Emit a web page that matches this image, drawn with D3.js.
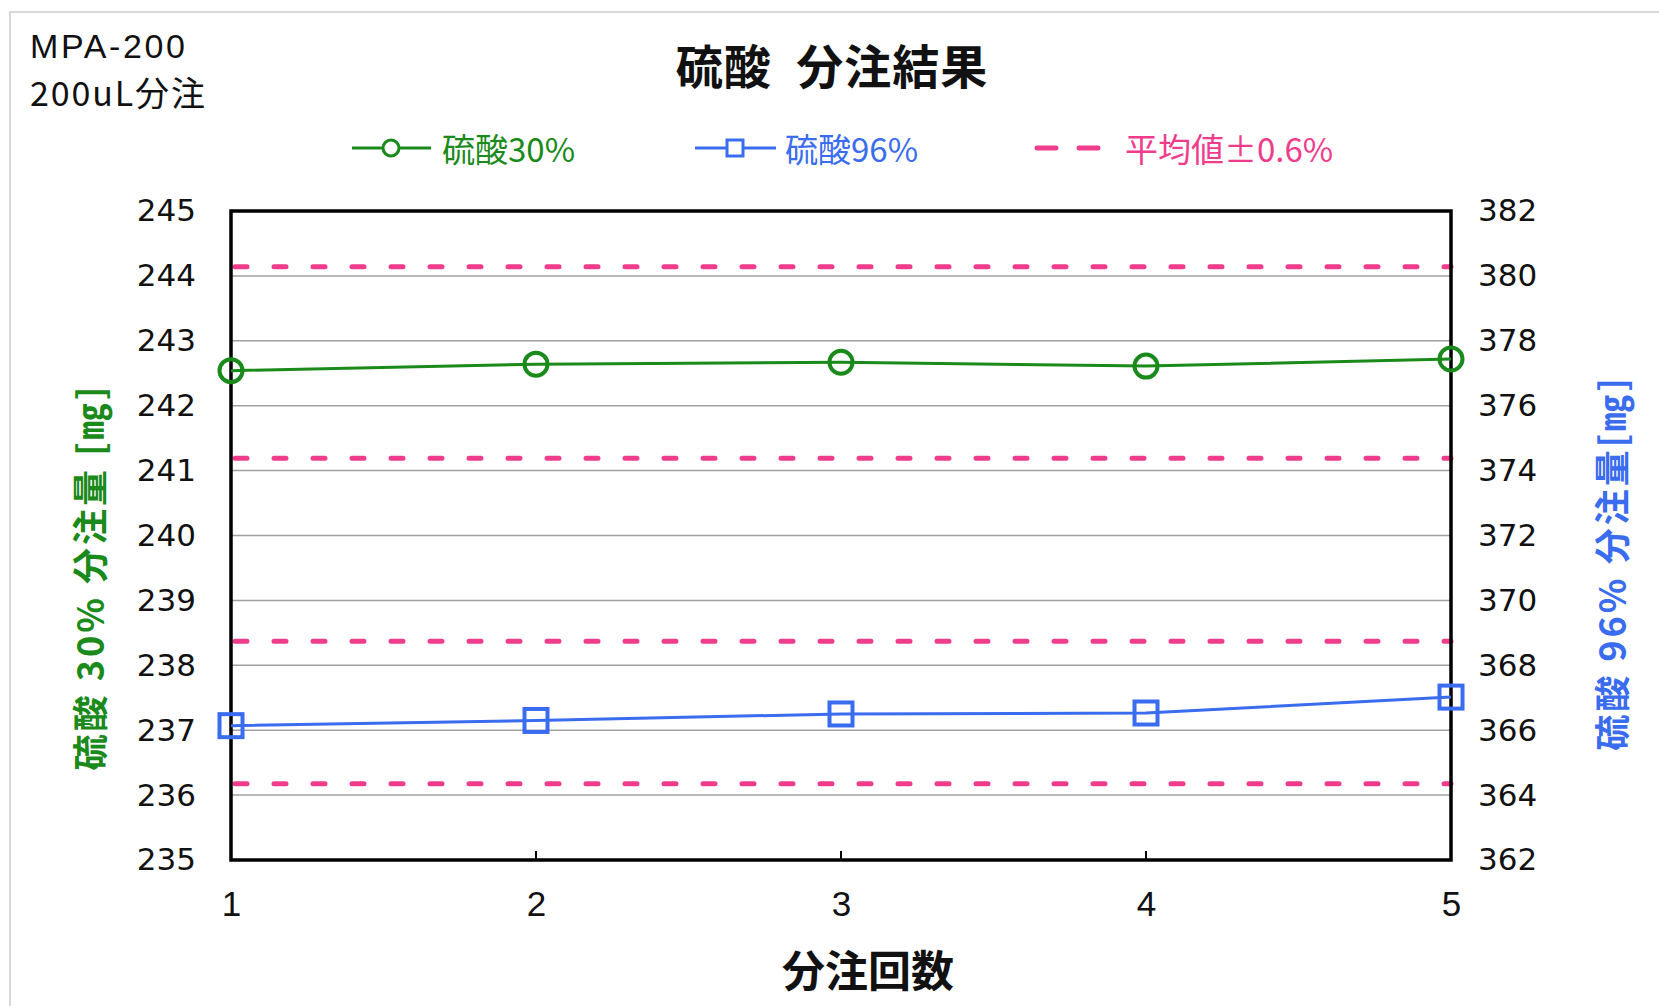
<!DOCTYPE html>
<html>
<head>
<meta charset="utf-8">
<script src="https://cdn.jsdelivr.net/npm/d3@7/dist/d3.min.js"></script>
<style>
  html, body { margin: 0; padding: 0; background: #fff; }
  svg { display: block; }
</style>
</head>
<body>
<svg id="chart" width="1659" height="1006"></svg>
<script>
// Dispensing runs (x axis)
const runs = [1, 2, 3, 4, 5];
// 硫酸30% dispensed mass [mg] (left axis)
const acid30 = [242.54, 242.64, 242.67, 242.61, 242.72];
// 硫酸96% dispensed mass [mg] (right axis)
const acid96 = [366.14, 366.30, 366.50, 366.53, 367.02];
// 平均値±0.6% limits for each series
const limits30 = [244.14, 241.19];
const limits96 = [368.74, 364.35];
// Tick labels
const leftTicks = [235, 236, 237, 238, 239, 240, 241, 242, 243, 244, 245];
const rightTicks = [362, 364, 366, 368, 370, 372, 374, 376, 378, 380, 382];

const GREEN = "#1a8a1a", BLUE = "#3a6cf0", PINK = "#f03c8c";
const CJK = "'Noto Sans CJK JP', 'Noto Sans', sans-serif";
const NUM = "'DejaVu Sans', sans-serif";
const NARROW = "'Liberation Sans Narrow', 'Liberation Sans', sans-serif";

const svg = d3.select("#chart");
const plot = { left: 231, right: 1451, top: 211, bottom: 860 };

const x = d3.scaleLinear().domain([1, 5]).range([plot.left, plot.right]);
const yL = d3.scaleLinear().domain([235, 245]).range([plot.bottom, plot.top]);
const yR = d3.scaleLinear().domain([362, 382]).range([plot.bottom, plot.top]);

// outer frame of the chart area
svg.append("rect").attr("x", 10).attr("y", 12).attr("width", 1700).attr("height", 1100)
  .attr("fill", "none").attr("stroke", "#d8d8d8").attr("stroke-width", 2);

// gridlines
svg.append("g").selectAll("line").data(leftTicks).join("line")
  .attr("x1", plot.left).attr("x2", plot.right)
  .attr("y1", d => yL(d)).attr("y2", d => yL(d))
  .attr("stroke", "#a0a0a0").attr("stroke-width", 1.5);

// ±0.6% limit lines
const dash = "12,27";
svg.append("g").selectAll("line").data(limits30).join("line")
  .attr("x1", plot.left + 4).attr("x2", plot.right)
  .attr("y1", d => yL(d)).attr("y2", d => yL(d))
  .attr("stroke", PINK).attr("stroke-width", 5).attr("stroke-linecap", "round")
  .attr("stroke-dasharray", dash);
svg.append("g").selectAll("line").data(limits96).join("line")
  .attr("x1", plot.left + 4).attr("x2", plot.right)
  .attr("y1", d => yR(d)).attr("y2", d => yR(d))
  .attr("stroke", PINK).attr("stroke-width", 5).attr("stroke-linecap", "round")
  .attr("stroke-dasharray", dash);

// plot border
svg.append("rect").attr("x", plot.left).attr("y", plot.top)
  .attr("width", plot.right - plot.left).attr("height", plot.bottom - plot.top)
  .attr("fill", "none").attr("stroke", "#000").attr("stroke-width", 3.5);

// inner x ticks
svg.append("g").selectAll("line").data(runs.slice(1, -1)).join("line")
  .attr("x1", d => x(d)).attr("x2", d => x(d))
  .attr("y1", plot.bottom).attr("y2", plot.bottom - 9)
  .attr("stroke", "#000").attr("stroke-width", 2);

// axes
const axL = svg.append("g").attr("transform", `translate(${plot.left},0)`)
  .call(d3.axisLeft(yL).tickValues(leftTicks).tickSize(0).tickPadding(35).tickFormat(d3.format("d")));
const axR = svg.append("g").attr("transform", `translate(${plot.right},0)`)
  .call(d3.axisRight(yR).tickValues(rightTicks).tickSize(0).tickPadding(27).tickFormat(d3.format("d")));
const axB = svg.append("g").attr("transform", `translate(0,${plot.bottom})`)
  .call(d3.axisBottom(x).tickValues(runs).tickSize(0).tickPadding(31).tickFormat(d3.format("d")));
[axL, axR, axB].forEach(g => {
  g.select(".domain").remove();
  g.selectAll("text").attr("fill", "#111").style("font-family", NUM).style("font-size", "31px");
});
axB.selectAll("text").style("font-family", NARROW).style("font-size", "35px");

// series lines
const line30 = d3.line().x((d, i) => x(runs[i])).y(d => yL(d));
const line96 = d3.line().x((d, i) => x(runs[i])).y(d => yR(d));
svg.append("path").datum(acid30).attr("d", line30)
  .attr("fill", "none").attr("stroke", GREEN).attr("stroke-width", 3);
svg.append("path").datum(acid96).attr("d", line96)
  .attr("fill", "none").attr("stroke", BLUE).attr("stroke-width", 3);

// markers
svg.append("g").selectAll("circle").data(acid30).join("circle")
  .attr("cx", (d, i) => x(runs[i])).attr("cy", d => yL(d)).attr("r", 11.5)
  .attr("fill", "none").attr("stroke", GREEN).attr("stroke-width", 4);
svg.append("g").selectAll("rect").data(acid96).join("rect")
  .attr("x", (d, i) => x(runs[i]) - 11.5).attr("y", d => yR(d) - 11.5)
  .attr("width", 23).attr("height", 23)
  .attr("fill", "none").attr("stroke", BLUE).attr("stroke-width", 4);

// title
svg.append("text").attr("x", 832).attr("y", 63).attr("text-anchor", "middle")
  .attr("dominant-baseline", "central")
  .style("font-family", CJK).style("font-weight", "bold").style("font-size", "47px")
  .style("letter-spacing", "1px")
  .attr("fill", "#111").text("硫酸\u2002分注結果");

// model note
const note = svg.append("text").style("font-family", "'Liberation Sans', sans-serif")
  .style("font-size", "34px").attr("fill", "#111");
note.append("tspan").attr("x", 30).attr("y", 58).attr("textLength", 155).text("MPA-200");
note.append("tspan").attr("x", 30).attr("y", 106).style("font-family", CJK)
  .attr("textLength", 175).text("200uL分注");

// legend
const lg = svg.append("g");
const LY = 148;
const LFS = "33px";
lg.append("line").attr("x1", 352).attr("x2", 431).attr("y1", LY).attr("y2", LY)
  .attr("stroke", GREEN).attr("stroke-width", 3);
lg.append("circle").attr("cx", 391).attr("cy", LY).attr("r", 8)
  .attr("fill", "#fff").attr("stroke", GREEN).attr("stroke-width", 3);
lg.append("text").attr("x", 442).attr("y", LY).attr("dominant-baseline", "central")
  .style("font-family", CJK).style("font-size", LFS).attr("fill", GREEN).text("硫酸30%");
lg.append("line").attr("x1", 695).attr("x2", 776).attr("y1", LY).attr("y2", LY)
  .attr("stroke", BLUE).attr("stroke-width", 3);
lg.append("rect").attr("x", 727).attr("y", LY - 8).attr("width", 16).attr("height", 16)
  .attr("fill", "#fff").attr("stroke", BLUE).attr("stroke-width", 3);
lg.append("text").attr("x", 785).attr("y", LY).attr("dominant-baseline", "central")
  .style("font-family", CJK).style("font-size", LFS).attr("fill", BLUE).text("硫酸96%");
lg.append("line").attr("x1", 1037).attr("x2", 1100).attr("y1", LY).attr("y2", LY)
  .attr("stroke", PINK).attr("stroke-width", 5).attr("stroke-linecap", "round")
  .attr("stroke-dasharray", "19,23");
lg.append("text").attr("x", 1125).attr("y", LY).attr("dominant-baseline", "central")
  .style("font-family", CJK).style("font-size", LFS).attr("fill", PINK).text("平均値±0.6%");

// axis titles
svg.append("text").attr("x", 868).attr("y", 968).attr("text-anchor", "middle")
  .attr("dominant-baseline", "central")
  .style("font-family", CJK).style("font-weight", "bold").style("font-size", "43px")
  .attr("fill", "#111").text("分注回数");
svg.append("text").attr("transform", "translate(88,577) rotate(-90)")
  .attr("text-anchor", "middle").attr("dominant-baseline", "central")
  .style("font-family", CJK).style("font-weight", "bold").style("font-size", "36px")
  .style("letter-spacing", "3px")
  .attr("fill", GREEN).text("硫酸 30% 分注量 [㎎]");
svg.append("text").attr("transform", "translate(1610,563) rotate(-90)")
  .attr("text-anchor", "middle").attr("dominant-baseline", "central")
  .style("font-family", CJK).style("font-weight", "bold").style("font-size", "36px")
  .style("letter-spacing", "3px")
  .attr("fill", BLUE).text("硫酸 96% 分注量[㎎]");
</script>
</body>
</html>
